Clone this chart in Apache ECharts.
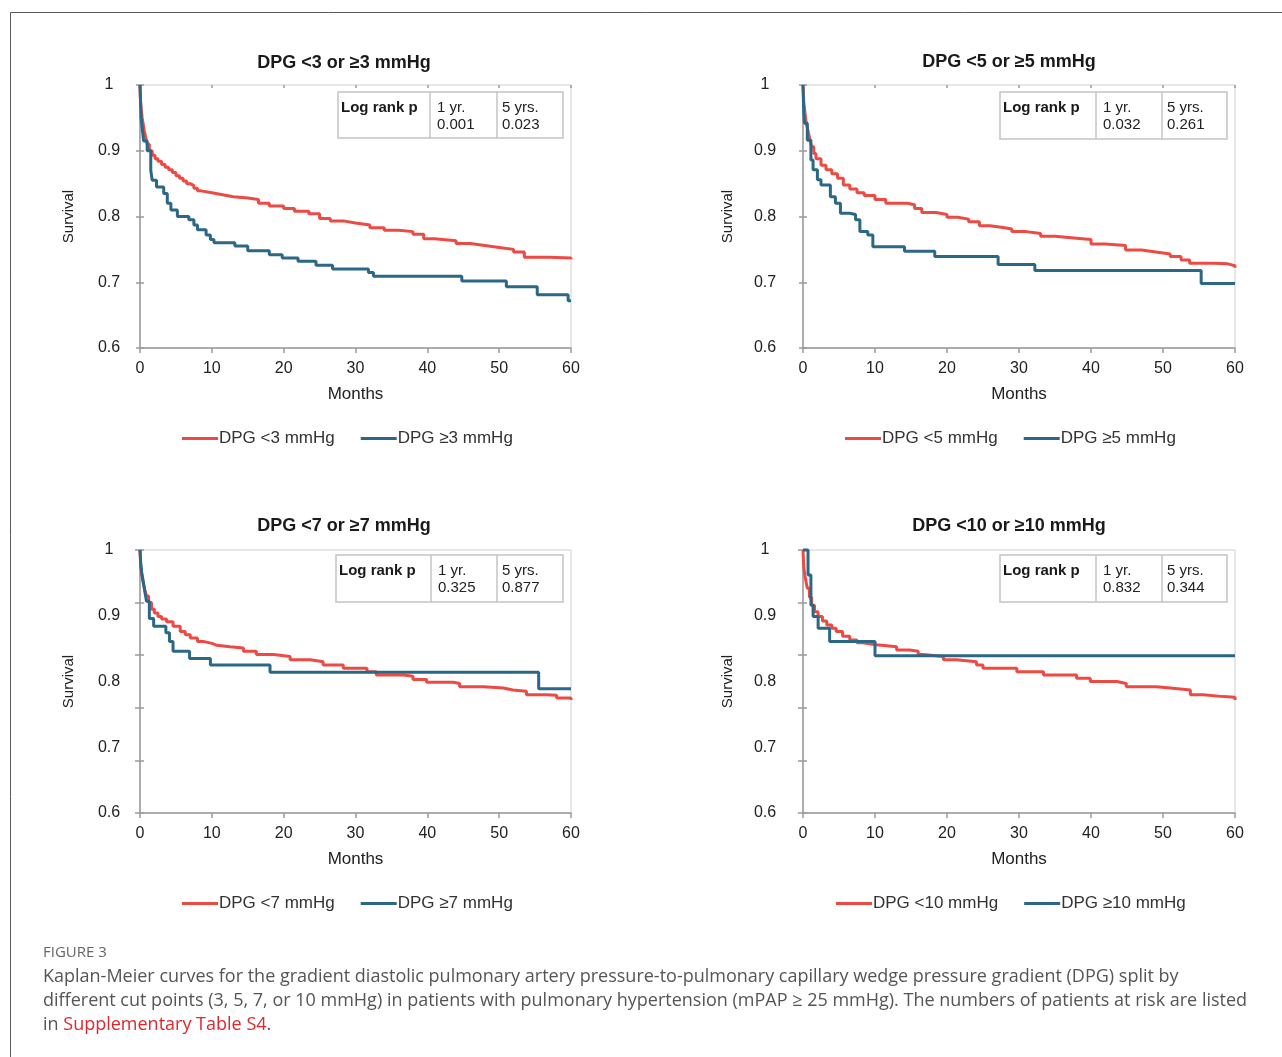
<!DOCTYPE html>
<html><head><meta charset="utf-8">
<script src="https://cdn.jsdelivr.net/npm/echarts@6/dist/echarts.min.js"></script>
<style>html,body{margin:0;padding:0;background:#fff}#c{width:1282px;height:1057px}</style>
</head><body><div id="c"></div><script>
// ---------- DATA ----------
const monthTicks = [0, 10, 20, 30, 40, 50, 60];
const survivalTicks = [0.6, 0.7, 0.8, 0.9, 1];

const titles = ['DPG <3 or ≥3 mmHg', 'DPG <5 or ≥5 mmHg', 'DPG <7 or ≥7 mmHg', 'DPG <10 or ≥10 mmHg'];
const lowNames = ['DPG <3 mmHg', 'DPG <5 mmHg', 'DPG <7 mmHg', 'DPG <10 mmHg'];
const highNames = ['DPG ≥3 mmHg', 'DPG ≥5 mmHg', 'DPG ≥7 mmHg', 'DPG ≥10 mmHg'];
const pOneYear = ['0.001', '0.032', '0.325', '0.832'];
const pFiveYears = ['0.023', '0.261', '0.877', '0.344'];

const dpg3Below = [[0,1],[0.05,0.98],[0.15,0.965],[0.3,0.95],[0.45,0.94],[0.6,0.93],[0.8,0.92],[1,0.91],[1.3,0.9],[1.7,0.893],[2.1,0.888],[2.5,0.884],[3,0.879],[3.5,0.875],[4,0.871],[4.5,0.867],[5,0.862],[5.5,0.858],[6,0.854],[6.5,0.85],[7,0.847],[7.5,0.843],[8,0.839],[8.5,0.836],[10,0.833],[11.5,0.83],[13,0.828],[15,0.826],[16.5,0.82],[18,0.816],[20,0.812],[21.5,0.808],[23.5,0.804],[25,0.797],[26.5,0.793],[28.5,0.79],[30,0.787],[32,0.783],[34,0.779],[36,0.777],[38,0.773],[39.5,0.766],[41,0.763],[44,0.759],[46,0.756],[48,0.753],[50,0.75],[52,0.746],[53.5,0.738],[57,0.737],[60,0.735]];
const dpg3Above = [[0,1],[0.15,0.95],[0.3,0.935],[0.5,0.915],[1,0.9],[1.5,0.87],[1.7,0.855],[2.3,0.845],[3.3,0.835],[3.8,0.82],[4.3,0.81],[5.2,0.8],[6.8,0.795],[7.5,0.787],[8,0.78],[9.2,0.772],[9.8,0.765],[10.3,0.76],[13.2,0.755],[15,0.748],[18,0.742],[19.8,0.737],[22,0.732],[24.5,0.726],[26.8,0.72],[31.8,0.715],[32.5,0.709],[44.8,0.702],[51,0.693],[55.3,0.681],[59.6,0.672],[60,0.672]];

const dpg5Below = [[0,1],[0.1,0.975],[0.25,0.96],[0.4,0.945],[0.6,0.935],[0.8,0.925],[1,0.915],[1.2,0.906],[1.5,0.896],[1.8,0.888],[2.5,0.878],[3.2,0.871],[4,0.865],[4.8,0.858],[5.6,0.848],[6.5,0.842],[7.5,0.836],[8.5,0.832],[10,0.826],[11.5,0.82],[14.5,0.818],[15.5,0.812],[16.5,0.806],[18.5,0.803],[20,0.799],[21.5,0.796],[23,0.792],[24.5,0.786],[26,0.783],[28,0.781],[29,0.777],[31,0.774],[33,0.77],[35,0.767],[38,0.765],[40,0.758],[42,0.756],[44.8,0.749],[47,0.746],[49,0.743],[51,0.739],[52.5,0.734],[53.7,0.729],[57,0.728],[59,0.725],[60,0.722]];
const dpg5Above = [[0,1],[0.1,0.96],[0.2,0.942],[0.6,0.916],[1.1,0.886],[1.4,0.871],[2,0.856],[2.5,0.848],[3.8,0.83],[4.5,0.82],[5.2,0.805],[6.5,0.803],[7.3,0.795],[7.9,0.777],[9,0.772],[9.7,0.754],[14.1,0.747],[18.3,0.739],[27.1,0.727],[32.2,0.718],[55.3,0.698],[60,0.698]];

const dpg7Below = [[0,1],[0.1,0.975],[0.25,0.962],[0.45,0.95],[0.65,0.94],[0.9,0.93],[1.2,0.92],[1.6,0.91],[2,0.904],[2.5,0.899],[3,0.895],[3.7,0.891],[4.6,0.884],[5.6,0.876],[6.3,0.871],[7,0.866],[8,0.861],[8.8,0.858],[10,0.855],[10.7,0.853],[12.5,0.851],[14.4,0.846],[16.2,0.841],[18.6,0.838],[20.9,0.833],[23.7,0.83],[25.5,0.825],[28.3,0.82],[31.6,0.815],[32.9,0.81],[36.7,0.808],[38,0.803],[39.9,0.799],[43.6,0.797],[44.5,0.792],[47.8,0.79],[50.6,0.787],[51.9,0.785],[53.8,0.78],[56.6,0.779],[58,0.775],[60,0.772]];
const dpg7Above = [[0,1],[0.1,0.98],[0.25,0.965],[0.45,0.952],[0.7,0.935],[0.9,0.922],[1.3,0.896],[1.9,0.884],[3.6,0.874],[4.1,0.861],[4.6,0.846],[6.9,0.835],[9.8,0.825],[18.1,0.814],[55.5,0.789],[60,0.789]];

const dpg10Below = [[0,1],[0.1,0.975],[0.25,0.962],[0.45,0.95],[0.6,0.942],[0.9,0.928],[1.2,0.916],[1.6,0.906],[2.1,0.899],[2.7,0.892],[3.3,0.886],[4,0.881],[4.6,0.876],[5.5,0.869],[6.5,0.863],[7.5,0.859],[8.3,0.856],[10.2,0.853],[13,0.848],[14.8,0.846],[16,0.841],[16.7,0.838],[19.5,0.833],[21.3,0.83],[24.1,0.825],[25,0.82],[29.7,0.815],[33.4,0.81],[38,0.805],[39.9,0.8],[43.6,0.797],[44.9,0.792],[49.1,0.79],[51,0.787],[53.8,0.78],[55.6,0.777],[58.4,0.776],[60,0.772]];
const dpg10Above = [[0,1],[0.7,0.962],[1.1,0.916],[1.4,0.899],[2.1,0.881],[3.7,0.861],[10,0.839],[60,0.839]];

const lowData = [dpg3Below, dpg5Below, dpg7Below, dpg10Below];
const highData = [dpg3Above, dpg5Above, dpg7Above, dpg10Above];

// ---------- LAYOUT / STYLE ----------
const FONT = '"Liberation Sans", Arial, sans-serif';
const RED = '#ee4a44';
const BLUE = '#2b6786';
const AXIS = '#9a9a9a';
const grids = [
  {left: 140, top: 85, width: 431, height: 263},
  {left: 803, top: 85, width: 432, height: 263},
  {left: 140, top: 550, width: 431, height: 263},
  {left: 803, top: 550, width: 432, height: 263}
];
const labelMargin = [31, 38, 31, 38];
const nameGapY = [64, 68, 64, 68];
const titlePos = [[339, 61], [1004, 60], [339, 524], [1004, 524]];
const legendPos = [[182, 430], [845, 430], [182, 895], [836, 895]];
const tables = [
  {x: 338, y: 92, w: 225, h: 46, d1: 430, d2: 497},
  {x: 1000, y: 92, w: 227, h: 47, d1: 1096, d2: 1162},
  {x: 336, y: 555, w: 227, h: 47, d1: 431, d2: 497},
  {x: 1000, y: 555, w: 227, h: 47, d1: 1096, d2: 1162}
];
const shiftedTicks = [false, false, true, true];

const option = {
  animation: false,
  backgroundColor: '#fff',
  title: [], grid: [], xAxis: [], yAxis: [], series: [], legend: [], graphic: []
};

const yMin = survivalTicks[0], yMax = survivalTicks[survivalTicks.length - 1];
const xMin = monthTicks[0], xMax = monthTicks[monthTicks.length - 1];

for (let g = 0; g < 4; g++) {
  option.grid.push(Object.assign({show: true, borderColor: '#cfcfcf', borderWidth: 1, containLabel: false}, grids[g]));
  option.title.push({
    text: titles[g], left: titlePos[g][0], top: titlePos[g][1] - 12, textAlign: 'center',
    textStyle: {fontFamily: FONT, fontSize: 18, fontWeight: 'bold', color: '#1a1a1a'}
  });
  option.xAxis.push({
    type: 'value', gridIndex: g, min: xMin, max: xMax, interval: 10,
    name: 'Months', nameLocation: 'middle', nameGap: 38,
    nameTextStyle: {fontFamily: FONT, fontSize: 17, color: '#222'},
    axisLine: {show: true, lineStyle: {color: AXIS, width: 1.5}},
    axisTick: {show: true, length: 5, lineStyle: {color: AXIS, width: 1.5}},
    axisLabel: {fontFamily: FONT, fontSize: 16, color: '#222', margin: 13},
    splitLine: {show: false}
  });
  option.xAxis.push({
    type: 'value', gridIndex: g, min: xMin, max: xMax, interval: 10,
    axisLine: {show: false}, axisLabel: {show: false}, splitLine: {show: false},
    axisTick: {show: true, inside: true, length: 3, lineStyle: {color: AXIS, width: 1.5}}
  });
  option.yAxis.push({
    type: 'value', gridIndex: g, min: yMin, max: yMax, interval: 0.1,
    name: 'Survival', nameLocation: 'middle', nameGap: nameGapY[g],
    nameTextStyle: {fontFamily: FONT, fontSize: 15, color: '#222'},
    axisLine: {show: true, lineStyle: {color: AXIS, width: 1.5}},
    axisTick: {show: !shiftedTicks[g], length: 4, lineStyle: {color: AXIS, width: 1.5}},
    axisLabel: {fontFamily: FONT, fontSize: 16, color: '#222', align: 'center', margin: labelMargin[g],
      formatter: v => String(+v.toFixed(1))},
    splitLine: {show: false}
  });
  const tMin = shiftedTicks[g] ? 0 : yMin, tMax = shiftedTicks[g] ? 5 : yMax, tInt = shiftedTicks[g] ? 1 : 0.1;
  option.yAxis.push({
    type: 'value', gridIndex: g, min: tMin, max: tMax, interval: tInt, position: 'left',
    axisLine: {show: false}, axisLabel: {show: false}, splitLine: {show: false},
    axisTick: {show: true, inside: true, length: 4, lineStyle: {color: AXIS, width: 1.5}}
  });
  option.yAxis.push({
    type: 'value', gridIndex: g, min: tMin, max: tMax, interval: tInt, position: 'left',
    axisLine: {show: false}, axisLabel: {show: false}, splitLine: {show: false},
    axisTick: {show: shiftedTicks[g], inside: false, length: 5, lineStyle: {color: AXIS, width: 1.5}}
  });

  option.series.push({
    name: lowNames[g], type: 'line', step: 'end', xAxisIndex: 2 * g, yAxisIndex: 3 * g,
    data: lowData[g], showSymbol: false, clip: false, color: RED,
    lineStyle: {color: RED, width: 3}
  });
  option.series.push({
    name: highNames[g], type: 'line', step: 'end', xAxisIndex: 2 * g, yAxisIndex: 3 * g,
    data: highData[g], showSymbol: false, clip: false, color: BLUE,
    lineStyle: {color: BLUE, width: 3}
  });

  option.legend.push({
    data: [lowNames[g], highNames[g]], left: legendPos[g][0], top: legendPos[g][1], padding: 0,
    icon: 'rect', itemWidth: 36, itemHeight: 3, itemGap: 26, orient: 'horizontal',
    textStyle: {fontFamily: FONT, fontSize: 17, color: '#333', padding: [0, 0, 0, -4]},
    selectedMode: false
  });

  const t = tables[g];
  const cellStroke = {stroke: '#c4c4c4', lineWidth: 1.5};
  option.graphic.push(
    {type: 'rect', shape: {x: t.x, y: t.y, width: t.w, height: t.h}, style: Object.assign({fill: 'none'}, cellStroke), z: 100},
    {type: 'line', shape: {x1: t.d1, y1: t.y, x2: t.d1, y2: t.y + t.h}, style: cellStroke, z: 100},
    {type: 'line', shape: {x1: t.d2, y1: t.y, x2: t.d2, y2: t.y + t.h}, style: cellStroke, z: 100},
    {type: 'text', x: t.x + 3, y: t.y + 16, z: 101, style: {text: 'Log rank p', fontFamily: FONT, fontSize: 15, fontWeight: 'bold', fill: '#1a1a1a', verticalAlign: 'middle'}},
    {type: 'text', x: t.d1 + 7, y: t.y + 16, z: 101, style: {text: '1 yr.', fontFamily: FONT, fontSize: 15, fill: '#222', verticalAlign: 'middle'}},
    {type: 'text', x: t.d1 + 7, y: t.y + 33, z: 101, style: {text: pOneYear[g], fontFamily: FONT, fontSize: 15, fill: '#222', verticalAlign: 'middle'}},
    {type: 'text', x: t.d2 + 5, y: t.y + 16, z: 101, style: {text: '5 yrs.', fontFamily: FONT, fontSize: 15, fill: '#222', verticalAlign: 'middle'}},
    {type: 'text', x: t.d2 + 5, y: t.y + 33, z: 101, style: {text: pFiveYears[g], fontFamily: FONT, fontSize: 15, fill: '#222', verticalAlign: 'middle'}}
  );
}

// outer frame and caption
const CAP = '"Open Sans", "Noto Sans", sans-serif';
option.graphic.push(
  {type: 'rect', shape: {x: 10.5, y: 12.5, width: 1300, height: 1100}, style: {fill: 'none', stroke: '#5a5a5a', lineWidth: 1}, z: 50},
  {type: 'text', x: 43, y: 953, style: {text: 'FIGURE 3', fontFamily: CAP, fontSize: 15, fill: '#666', verticalAlign: 'middle'}},
  {type: 'text', x: 43, y: 977, style: {text: 'Kaplan-Meier curves for the gradient diastolic pulmonary artery pressure-to-pulmonary capillary wedge pressure gradient (DPG) split by', fontFamily: CAP, fontSize: 18, fill: '#555', verticalAlign: 'middle'}},
  {type: 'text', x: 43, y: 1001, style: {text: 'different cut points (3, 5, 7, or 10 mmHg) in patients with pulmonary hypertension (mPAP ≥ 25 mmHg). The numbers of patients at risk are listed', fontFamily: CAP, fontSize: 18, fill: '#555', verticalAlign: 'middle'}},
  {type: 'text', x: 43, y: 1025, style: {text: '{a|in }{b|Supplementary Table S4}{a|.}', fontFamily: CAP, fontSize: 18, fill: '#555', verticalAlign: 'middle',
    rich: {a: {fontFamily: CAP, fontSize: 18, fill: '#555'}, b: {fontFamily: CAP, fontSize: 18, fill: '#e0262d'}}}}
);

const chart = echarts.init(document.getElementById('c'), null, {renderer: 'canvas'});
chart.setOption(option);
</script></body></html>
